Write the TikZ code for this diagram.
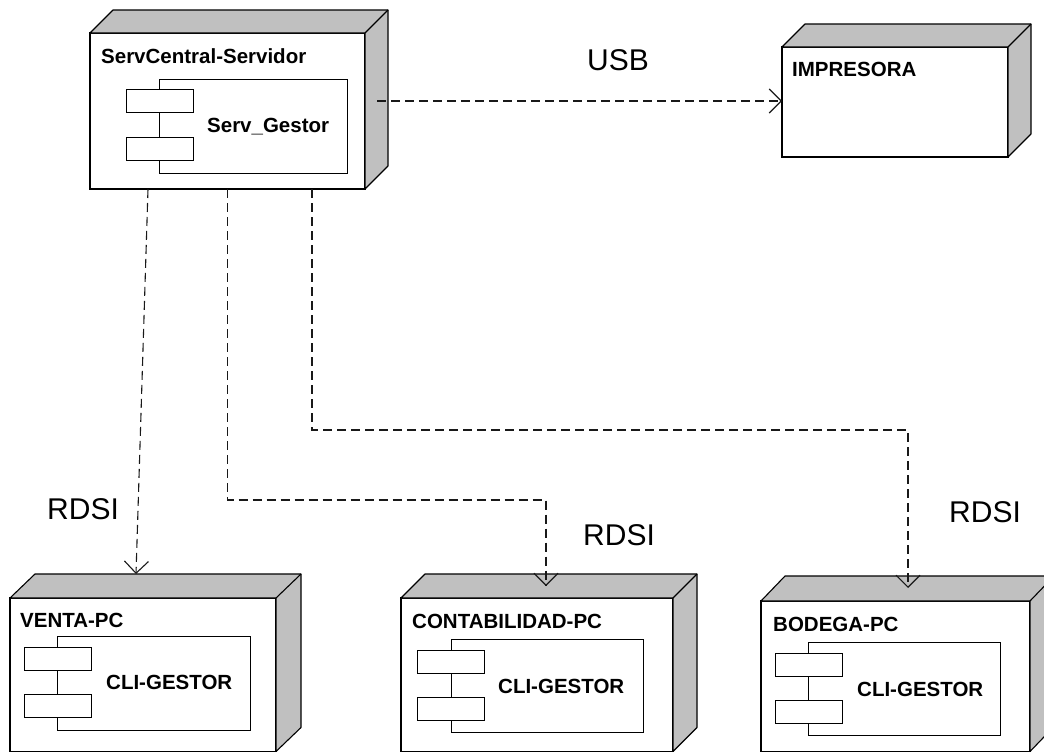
\documentclass[tikz,border=0pt]{standalone}
\usepackage{fontspec}
\setmainfont{Liberation Sans}
\usetikzlibrary{arrows.meta,calc}
\definecolor{facegray}{HTML}{C0C0C0}
\newcommand\drawcube[3]{%
  \filldraw[face] (#1.north west) -- ++(#2,-#3) -- ([shift={(#2,-#3)}]#1.north east)
    -- ([shift={(#2,-#3)}]#1.south east) -- (#1.south east) -- (#1.north east) -- cycle;
  \draw[face,fill=none] (#1.north east) -- ++(#2,-#3);}
\begin{document}
\begin{tikzpicture}[x=1pt,y=-1pt,
  front/.style={draw=black, fill=white, line width=1.1pt, inner sep=0pt, outer sep=0pt, rectangle, anchor=north west},
  face/.style={draw=black, fill=facegray, line width=1.1pt, line join=round},
  comp/.style={draw=black, fill=white, line width=1pt, inner sep=0pt, outer sep=0pt, rectangle, anchor=north west},
  port/.style={comp, minimum width=67pt, minimum height=23pt},
  conn/.style={draw=black!90, line width=1.1pt, dash pattern=on 9pt off 5pt, -{Straight Barb[length=12pt,width=24pt]}},
  btxt/.style={font=\fontsize{20.5}{24}\selectfont\bfseries, inner sep=0pt, anchor=base west},
  lab/.style={font=\fontsize{30}{36}\selectfont, inner sep=0pt, anchor=base west}]
\clip (0,0) rectangle (1044,753);
\fill[white] (0,0) rectangle (1044,753);

% Server node
\node[front, minimum width=275pt, minimum height=156pt] (serv) at (90,33) {};
\drawcube{serv}{23}{23}
\node[comp, minimum width=188pt, minimum height=94pt] (servc) at (159,79) {};
\node[port] (servp1) at (126,89.5) {};
\node[port] (servp2) at (126,137.5) {};
\node[btxt] (servt) at (101,63) {ServCentral-Servidor};
\node[btxt] (servct) at (207,132) {Serv\_Gestor};

% Printer
\node[front, minimum width=226pt, minimum height=110pt] (imp) at (782,47) {};
\drawcube{imp}{23}{23}
\node[btxt] (impt) at (792,76) {IMPRESORA};

% Venta
\node[front, minimum width=266pt, minimum height=153.5pt] (venta) at (10,598) {};
\drawcube{venta}{25}{24}
\node[comp, minimum width=193pt, minimum height=94pt] (ventac) at (57,636) {};
\node[port] (ventap1) at (24,647) {};
\node[port] (ventap2) at (24,694) {};
\node[btxt] (ventat) at (20,627) {VENTA-PC};
\node[btxt] (ventact) at (106,689) {CLI-GESTOR};

% Contabilidad
\node[front, minimum width=272pt, minimum height=153.5pt] (contab) at (401,598) {};
\drawcube{contab}{24}{24}
\node[comp, minimum width=192pt, minimum height=93pt] (contabc) at (451,639) {};
\node[port] (contabp1) at (417,650) {};
\node[port] (contabp2) at (417,697) {};
\node[btxt] (contabt) at (412,628) {CONTABILIDAD-PC};
\node[btxt] (contabct) at (498,693) {CLI-GESTOR};

% Bodega
\node[front, minimum width=269pt, minimum height=150.5pt] (bodega) at (761,601) {};
\drawcube{bodega}{24}{25}
\node[comp, minimum width=192pt, minimum height=93pt] (bodegac) at (808,642) {};
\node[port] (bodegap1) at (775,653) {};
\node[port] (bodegap2) at (775,700) {};
\node[btxt] (bodegat) at (773,631) {BODEGA-PC};
\node[btxt] (bodegact) at (857,696) {CLI-GESTOR};

% Connectors
\coordinate (usbStart) at ([shift={(12,-10)}]serv.east);
\draw[conn] (usbStart) -- (usbStart -| imp.west);
\draw[conn] ([shift={(-79.5,0)}]serv.south) -- ([shift={(-7,-24)}]venta.north);
\draw[conn] (serv.south) -- ++(0,311) -| ([shift={(9,-12)}]contab.north);
\draw[conn] ([shift={(84.5,0)}]serv.south) -- ++(0,241) -| ([shift={(12.5,-13)}]bodega.north);

% Labels
\node[lab] (usb) at (587,70) {USB};
\node[lab] (rdsi1) at (47,519) {RDSI};
\node[lab] (rdsi2) at (583,545) {RDSI};
\node[lab] (rdsi3) at (949,522) {RDSI};
\end{tikzpicture}
\end{document}
